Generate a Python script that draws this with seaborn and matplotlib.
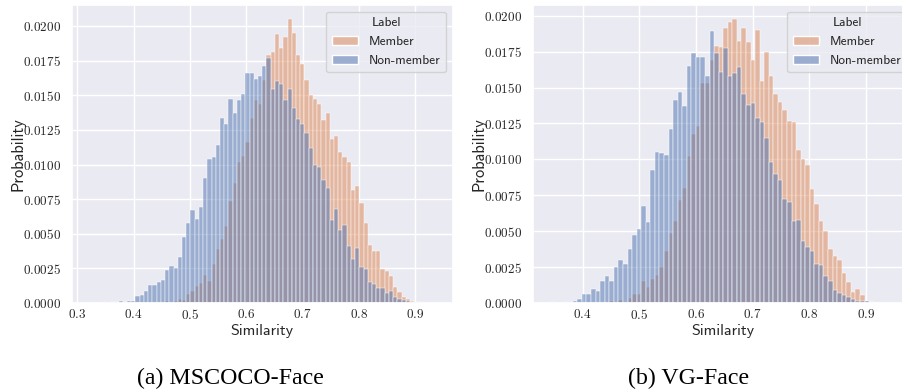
import numpy as np
import pandas as pd
import seaborn as sns
import matplotlib.pyplot as plt
from matplotlib.ticker import FuncFormatter, MultipleLocator

sns.set_theme(style="darkgrid")
plt.rcParams["font.family"] = ["cmss10", "DejaVu Sans"]
plt.rcParams["mathtext.fontset"] = "cm"

labels = ["Member", "Non-member"]
captions = ["(a) MSCOCO-Face", "(b) VG-Face"]

# MSCOCO-Face: per-bin probability, bins start at 0.3206 with width 0.0075
coco_start, coco_width = 0.3206, 0.0075
coco_member = [
    0, 0, 0, 0, 0, 0, 0, 0.00001, 0, 0.00001,
    0.00002, 0.00002, 0.00003, 0.00002, 0.00003, 0.00004, 0.00005, 0.00006, 0.00012, 0.00008,
    0.00017, 0.0003, 0.00024, 0.00062, 0.00089, 0.00125, 0.00144, 0.002, 0.0016, 0.0028,
    0.00391, 0.00463, 0.00556, 0.00734, 0.00866, 0.01022, 0.0106, 0.01161, 0.01333, 0.01463,
    0.01436, 0.01611, 0.01794, 0.01815, 0.0194, 0.01844, 0.01923, 0.0205, 0.01947, 0.01794,
    0.01729, 0.01611, 0.01506, 0.0147, 0.01434, 0.01321, 0.01372, 0.01185, 0.01204, 0.01089,
    0.01053, 0.01017, 0.00813, 0.00844, 0.00722, 0.0058, 0.00422, 0.00374, 0.00376, 0.00249,
    0.00233, 0.00194, 0.00118, 0.00082, 0.00046, 0.00026, 0.00014, 0.0001, 0.00005, 0.00003,
    0.00001, 0.00001,
]
coco_nonmember = [
    0.00003, 0.00002, 0.00003, 0.00004, 0.00003, 0.00005, 0.00004, 0.00017, 0.0001, 0.00014,
    0.00017, 0.0005, 0.00058, 0.00089, 0.00127, 0.00132, 0.00151, 0.00163, 0.00236, 0.0027,
    0.00255, 0.00334, 0.00474, 0.0058, 0.0067, 0.0061, 0.0069, 0.009, 0.0104, 0.01055,
    0.01144, 0.01338, 0.0129, 0.01477, 0.01369, 0.01468, 0.01513, 0.01659, 0.01659, 0.01621,
    0.0164, 0.01715, 0.01772, 0.01544, 0.01604, 0.0158, 0.01465, 0.01544, 0.01408, 0.01329,
    0.0129, 0.01225, 0.0112, 0.00995, 0.00984, 0.00885, 0.0083, 0.00602, 0.00681, 0.0053,
    0.00566, 0.00415, 0.00321, 0.00398, 0.00261, 0.00242, 0.00149, 0.00137, 0.00106, 0.00106,
    0.00074, 0.00089, 0.00041, 0.00026, 0.00022, 0.00014, 0.0001, 0.00007, 0.00003, 0.00002,
    0.00001, 0.00001,
]

# VG-Face: per-bin probability, bins start at 0.3427 with width 0.00804
vg_start, vg_width = 0.3427, 0.00804
vg_member = [
    0, 0, 0, 0, 0, 0.00001, 0.00001, 0.00002, 0.00002, 0.00003,
    0.00004, 0.00005, 0.00006, 0.00016, 0.00008, 0.00023, 0.00007, 0.00037, 0.00063, 0.00063,
    0.00151, 0.00114, 0.00165, 0.00198, 0.00254, 0.00365, 0.00486, 0.0057, 0.00714, 0.00803,
    0.01024, 0.01175, 0.01233, 0.01529, 0.01529, 0.01692, 0.0179, 0.0178, 0.01913, 0.01959,
    0.01976, 0.01827, 0.01917, 0.0182, 0.01692, 0.01901, 0.01547, 0.0175, 0.01582, 0.01454,
    0.01396, 0.01347, 0.01266, 0.01257, 0.01063, 0.01005, 0.00959, 0.00796, 0.00691, 0.00568,
    0.00498, 0.00379, 0.0033, 0.00296, 0.00207, 0.00144, 0.00079, 0.00098, 0.00056, 0.00016,
    0.00007, 0.00003, 0.00001, 0.00001, 0, 0,
]
vg_nonmember = [
    0.00005, 0.00003, 0.00003, 0.00004, 0.0001, 0.00016, 0.0003, 0.0006, 0.0006, 0.001,
    0.00085, 0.00154, 0.00187, 0.00156, 0.00252, 0.00296, 0.00268, 0.00377, 0.0047, 0.00516,
    0.00672, 0.00561, 0.00928, 0.01054, 0.01047, 0.01029, 0.01212, 0.01412, 0.01468, 0.01375,
    0.0165, 0.01738, 0.0171, 0.0171, 0.0158, 0.01897, 0.01743, 0.0161, 0.01773, 0.01582,
    0.01599, 0.01641, 0.01454, 0.01378, 0.01394, 0.01285, 0.01261, 0.0115, 0.00982, 0.00896,
    0.00859, 0.00724, 0.007, 0.0057, 0.00575, 0.0043, 0.00389, 0.00365, 0.00272, 0.00265,
    0.00188, 0.00156, 0.00091, 0.00072, 0.00056, 0.00044, 0.0003, 0.00014, 0.00012, 0.00014,
    0.00009, 0.00002, 0.00001, 0.00001, 0, 0.00001,
]

panels = [
    (coco_start, coco_width, coco_member, coco_nonmember),
    (vg_start, vg_width, vg_member, vg_nonmember),
]

deep = sns.color_palette("deep")
palette = {"Member": deep[1], "Non-member": deep[0]}

fig = plt.figure(figsize=(9.02, 3.91), dpi=100)
axes = [
    fig.add_axes([0.0795, 0.2251, 0.4224, 0.7621]),
    fig.add_axes([0.5906, 0.2251, 0.4224, 0.7621]),
]
caption_x = [0.255, 0.7639]

for ax, (start, width, member, nonmember), caption, cx in zip(axes, panels, captions, caption_x):
    n = len(member)
    stop = start + n * width
    centers = start + (np.arange(n) + 0.5) * width
    df = pd.DataFrame({
        "Similarity": np.concatenate([centers, centers]),
        "Probability": np.concatenate([member, nonmember]),
        "Label": [labels[0]] * n + [labels[1]] * n,
    })
    # non-members are layered over members
    sns.histplot(
        data=df, x="Similarity", weights="Probability", hue="Label",
        hue_order=labels[::-1], palette=palette, bins=n, binrange=(start, stop),
        stat="count", ax=ax,
    )
    ax.set_ylabel("Probability", fontsize=11.8, labelpad=-2)
    ax.set_xlabel("Similarity", fontsize=11.5, labelpad=1.5)
    ax.yaxis.set_major_locator(MultipleLocator(0.0025))
    ax.xaxis.set_major_locator(MultipleLocator(0.1))
    ax.yaxis.set_major_formatter(FuncFormatter(lambda v, p: f"${v:.4f}$"))
    ax.xaxis.set_major_formatter(FuncFormatter(lambda v, p: f"${v:.1f}$"))
    ax.tick_params(axis="y", labelsize=9.5, pad=2)
    ax.tick_params(axis="x", labelsize=9.5, pad=-2.5)

    old = ax.get_legend()
    handles = list(old.legend_handles)[::-1]
    names = [t.get_text() for t in old.get_texts()][::-1]
    old.remove()
    ax.legend(handles, names, title="Label", loc="upper right",
              fontsize=9.6, title_fontsize=9.6)

    fig.text(cx, 0.033, caption, family="Liberation Serif", fontsize=17.2,
             ha="center", va="center", color="black")

fig.savefig("out.png", dpi=100)
